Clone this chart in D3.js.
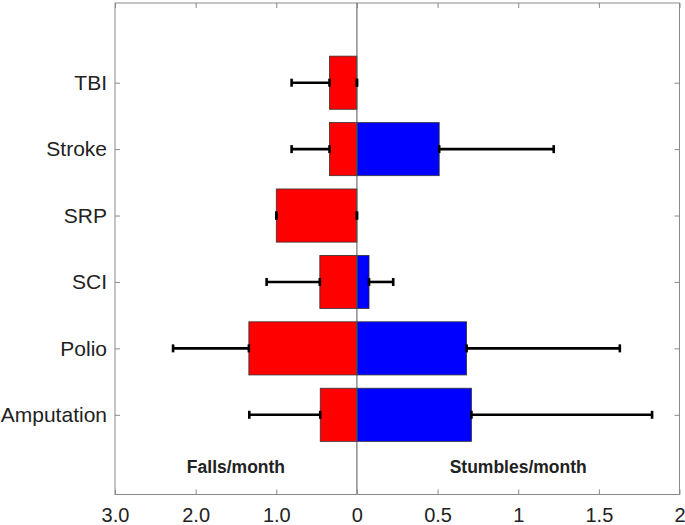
<!DOCTYPE html>
<html>
<head>
<meta charset="utf-8">
<script src="https://cdn.jsdelivr.net/npm/d3@7"></script>
<style>
  body { margin: 0; background: #fff; }
  svg { font-family: "Liberation Sans", Arial, sans-serif; }
</style>
</head>
<body>
<div id="chart"></div>
<script>
// bottom to top
const categories = ['Amputation', 'Polio', 'SCI', 'SRP', 'Stroke', 'TBI'];
const falls = [0.455, 1.34, 0.46, 1.0, 0.34, 0.34];
const fallsSD = [0.88, 0.94, 0.66, 0, 0.47, 0.47];
const stumbles = [0.71, 0.68, 0.075, 0, 0.51, 0];
const stumblesSD = [1.12, 0.95, 0.15, 0, 0.71, 0];
const fallsTicks = [3, 2, 1];
const stumblesTicks = [0, 0.5, 1, 1.5, 2];

const width = 685, height = 525;
const plotL = 115, plotR = 679.5, plotT = 3, plotB = 494.5;

const svg = d3.select('#chart').append('svg')
  .attr('width', width).attr('height', height);

// falls run right-to-left at half the scale of stumbles
const mid = plotL + (plotR - plotL) * 1.5 / 3.5;
const xF = d3.scaleLinear().domain([3, 0]).range([plotL, mid]);
const xS = d3.scaleLinear().domain([0, 2]).range([mid, plotR]);

const y = d3.scaleLinear().domain([-0.2, 7.2]).range([plotB, plotT]);
const barH = y(0) - y(0.8);

const rows = categories.map((c, i) => ({
  name: c, pos: i + 1,
  f: falls[i], fsd: fallsSD[i], s: stumbles[i], ssd: stumblesSD[i]
}));

// bars
svg.selectAll('rect.fall').data(rows).enter().append('rect')
  .attr('class', 'fall')
  .attr('x', d => xF(d.f)).attr('width', d => xF(0) - xF(d.f))
  .attr('y', d => y(d.pos) - barH / 2).attr('height', barH)
  .attr('fill', '#ff0000').attr('stroke', '#333').attr('stroke-width', 0.8);

svg.selectAll('rect.stum').data(rows.filter(d => d.s > 0)).enter().append('rect')
  .attr('class', 'stum')
  .attr('x', xS(0)).attr('width', d => xS(d.s) - xS(0))
  .attr('y', d => y(d.pos) - barH / 2).attr('height', barH)
  .attr('fill', '#0000ff').attr('stroke', '#333').attr('stroke-width', 0.8);

// center line
svg.append('line')
  .attr('x1', mid).attr('x2', mid).attr('y1', plotT).attr('y2', plotB)
  .attr('stroke', '#555').attr('stroke-width', 1);

// error bars
function errBars(cls, x0, x1) {
  const g = svg.selectAll('g.' + cls).data(rows).enter().append('g').attr('class', cls);
  g.append('line')
    .attr('x1', x0).attr('x2', x1)
    .attr('y1', d => y(d.pos)).attr('y2', d => y(d.pos))
    .attr('stroke', '#000').attr('stroke-width', 2.6);
  [x0, x1].forEach(fx => {
    g.append('line')
      .attr('x1', fx).attr('x2', fx)
      .attr('y1', d => y(d.pos) - 4).attr('y2', d => y(d.pos) + 4)
      .attr('stroke', '#000').attr('stroke-width', 2.6);
  });
}
errBars('ef', d => xF(d.f), d => xF(d.f + d.fsd));
errBars('es', d => xS(d.s), d => xS(d.s + d.ssd));

// frame
svg.append('rect')
  .attr('x', plotL).attr('y', plotT).attr('width', plotR - plotL).attr('height', plotB - plotT)
  .attr('fill', 'none').attr('stroke', '#8a8a8a').attr('stroke-width', 1);

// x axes (ticks inward)
function xAxis(scale, ticks, fmt) {
  const gb = svg.append('g').attr('transform', `translate(0,${plotB})`)
    .call(d3.axisBottom(scale).tickValues(ticks).tickFormat(fmt).tickSizeInner(-5).tickSizeOuter(0).tickPadding(13));
  const gt = svg.append('g').attr('transform', `translate(0,${plotT})`)
    .call(d3.axisTop(scale).tickValues(ticks).tickFormat('').tickSizeInner(-5).tickSizeOuter(0));
  [gb, gt].forEach(g => {
    g.select('.domain').remove();
    g.selectAll('line').attr('stroke', '#8a8a8a');
  });
  gb.selectAll('text').attr('font-size', 20).attr('fill', '#222')
    .attr('font-family', '"Liberation Sans", Arial, sans-serif');
}
xAxis(xF, fallsTicks, d3.format('.1f'));
xAxis(xS, stumblesTicks, d => String(d));

// y axes
const gl = svg.append('g').attr('transform', `translate(${plotL},0)`)
  .call(d3.axisLeft(y).tickValues(rows.map(d => d.pos))
    .tickFormat((d, i) => categories[i]).tickSizeInner(-5).tickSizeOuter(0).tickPadding(8));
const gr = svg.append('g').attr('transform', `translate(${plotR},0)`)
  .call(d3.axisRight(y).tickValues(rows.map(d => d.pos)).tickFormat('').tickSizeInner(-5).tickSizeOuter(0));
[gl, gr].forEach(g => {
  g.select('.domain').remove();
  g.selectAll('line').attr('stroke', '#8a8a8a');
});
gl.selectAll('text').attr('font-size', 21).attr('fill', '#222')
  .attr('font-family', '"Liberation Sans", Arial, sans-serif');

// side labels
svg.append('text').attr('x', xF(1.5)).attr('y', 472.5)
  .attr('text-anchor', 'middle').attr('font-weight', 'bold').attr('font-size', 17.5)
  .attr('fill', '#222').text('Falls/month');
svg.append('text').attr('x', xS(1)).attr('y', 472.5)
  .attr('text-anchor', 'middle').attr('font-weight', 'bold').attr('font-size', 17.5)
  .attr('fill', '#222').text('Stumbles/month');
</script>
</body>
</html>
